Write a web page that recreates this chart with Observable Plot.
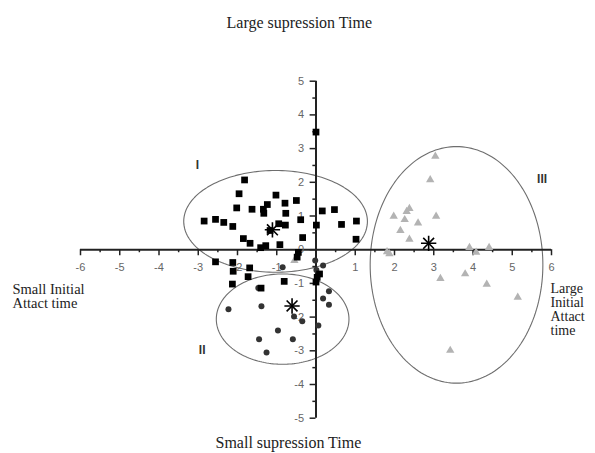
<!DOCTYPE html>
<html><head><meta charset="utf-8">
<script src="https://cdn.jsdelivr.net/npm/d3@7"></script>
<script src="https://cdn.jsdelivr.net/npm/@observablehq/plot@0.6"></script>
<style>body{margin:0;background:#fff}</style>
</head><body><div id="chart"></div>
<script>
// Group I (squares)
const groupI = [[0.0,3.49],[-1.82,2.07],[-1.96,1.66],[-1.02,1.62],[-1.24,1.34],[-0.79,1.38],[-0.50,1.46],[-2.02,1.24],[-1.63,1.20],[-1.34,1.20],[-1.33,1.08],[-0.77,1.08],[0.16,1.15],[0.47,1.19],[-2.85,0.85],[-2.56,0.90],[-2.35,0.81],[-2.12,0.69],[-0.39,0.89],[-0.95,0.77],[-0.78,0.73],[0.01,0.73],[0.65,0.75],[1.03,0.85],[-1.17,0.57],[-0.34,0.36],[-1.85,0.33],[-1.68,0.19],[1.02,0.31],[-1.28,0.12],[-1.41,0.06],[-0.92,0.15],[-0.45,-0.08],[-0.48,-0.22],[-2.56,-0.36],[-2.12,-0.38],[-2.11,-0.64],[-1.69,-0.54],[-1.73,-0.80],[-2.13,-1.02],[-1.40,-1.14],[-0.81,-0.94],[0.09,-0.72],[0.03,-0.82],[0.0,-0.96]];
// Group II (circles)
const groupII = [[-0.02,-0.32],[0.18,-0.47],[-0.85,-0.52],[0.01,-0.60],[0.33,-1.23],[0.18,-1.45],[0.33,-1.63],[-2.23,-1.77],[-1.39,-1.68],[-0.56,-1.98],[-0.35,-2.12],[0.06,-2.25],[-0.97,-2.40],[-1.45,-2.66],[-0.59,-2.66],[-1.26,-3.05],[-1.47,-1.14]];
// Group III (triangles)
const groupIII = [[3.04,2.77],[2.91,2.07],[2.38,1.22],[2.31,1.13],[1.98,0.99],[2.26,0.89],[2.60,0.79],[3.06,0.99],[2.15,0.57],[2.38,0.31],[1.81,-0.06],[1.87,-0.12],[3.91,0.06],[4.08,-0.08],[4.41,0.06],[3.17,-0.86],[3.80,-0.72],[4.35,-1.03],[5.14,-1.41],[3.42,-2.99],[-0.55,-0.32]];
// Cluster centroids (stars)
const centroids = [[-1.11,0.59],[-0.61,-1.67],[2.87,0.19]];
// Cluster ellipses: centre x, centre y, radius x, radius y
const ellipseNames = ["I","II","III"];
const ellipseCx = [-1.03,-0.85,3.58];
const ellipseCy = [0.84,-2.06,-0.45];
const ellipseRx = [2.34,1.69,2.20];
const ellipseRy = [1.51,1.34,3.51];
// Cluster labels
const labelX = [-3.02,-2.90,5.76];
const labelY = [2.50,-2.99,2.10];
// Axis ticks
const xTickLabels = [-6,-5,-4,-3,-2,-1,1,2,3,4,5,6];
const yTickLabels = [-5,-4,-3,-2,-1,0,1,2,3,4,5];
const xMajor = d3.range(-6,6.01,1);
const xMinor = d3.range(-5.5,6,1);
const yMajor = d3.range(-5,5.01,1);
const yMinor = d3.range(-4.5,5,1);

const ellipsePts = [];
ellipseNames.forEach((n,i)=>{
  for (let k=0;k<=180;k++){
    const t = k/180*2*Math.PI;
    ellipsePts.push({g:n, x: ellipseCx[i]+ellipseRx[i]*Math.cos(t), y: ellipseCy[i]+ellipseRy[i]*Math.sin(t)});
  }
});
const labels = ellipseNames.map((n,i)=>({n, x:labelX[i], y:labelY[i]}));

const serif = "'Liberation Serif', 'Times New Roman', serif";
const sans = "'Liberation Sans', Arial, sans-serif";

const chart = Plot.plot({
  width: 595, height: 453,
  marginLeft: 80, marginRight: 44, marginTop: 80.7, marginBottom: 35.3,
  x: {domain: [-6,6], axis: null},
  y: {domain: [-5,5], axis: null},
  style: {background: "#fff"},
  marks: [
    Plot.line(ellipsePts, {x:"x", y:"y", z:"g", stroke:"#6e6e6e", strokeWidth:1.1}),
    Plot.ruleY([0], {x1:-6, x2:6, stroke:"#222", strokeWidth:2}),
    Plot.ruleX([0], {y1:-5, y2:5, stroke:"#222", strokeWidth:2}),
    Plot.ruleX(xMajor, {x:d=>d, y1:0, y2:-0.18, stroke:"#222", strokeWidth:1.5}),
    Plot.ruleX(xMinor, {x:d=>d, y1:0, y2:-0.09, stroke:"#222", strokeWidth:1.5}),
    Plot.ruleY(yMajor, {y:d=>d, x1:-0.15, x2:0, stroke:"#222", strokeWidth:1.5}),
    Plot.ruleY(yMinor, {y:d=>d, x1:-0.08, x2:0, stroke:"#222", strokeWidth:1.5}),
    Plot.text(xTickLabels, {x:d=>d, y:0, dy:18, text:d=>String(d), fill:"#666", fontSize:11, fontFamily:sans}),
    Plot.text(yTickLabels, {x:0, y:d=>d, dx:-12, text:d=>String(d), textAnchor:"end", fill:"#666", fontSize:11, fontFamily:sans}),
    Plot.dot(groupIII, {x:d=>d[0], y:d=>d[1], symbol:"triangle", r:3.1, fill:"#b3b3b3", stroke:"none"}),
    Plot.dot(groupII, {x:d=>d[0], y:d=>d[1], symbol:"circle", r:3, fill:"#333", stroke:"none"}),
    Plot.dot(groupI, {x:d=>d[0], y:d=>d[1], symbol:"square", r:3.8, fill:"#000", stroke:"none"}),
    Plot.dot(centroids, {x:d=>d[0], y:d=>d[1], symbol:"plus", r:5, stroke:"#000", strokeWidth:1.6}),
    Plot.dot(centroids, {x:d=>d[0], y:d=>d[1], symbol:"times", r:5, stroke:"#000", strokeWidth:1.6}),
    Plot.text(labels, {x:"x", y:"y", text:"n", fill:"#333", fontSize:12, fontFamily:sans, fontWeight:"bold"}),
    Plot.text(["Large supression Time"], {frameAnchor:"top-left", dx:146, dy:-64.5, text:d=>d, fontSize:16, fontFamily:serif, fill:"#222"}),
    Plot.text(["Small supression Time"], {frameAnchor:"bottom-left", dx:135, dy:29.5, text:d=>d, fontSize:16, fontFamily:serif, fill:"#222"}),
    Plot.text(["Small Initial\nAttact time"], {frameAnchor:"left", dx:-68, dy:46.5, text:d=>d, textAnchor:"start", lineHeight:1, fontSize:14.5, fontFamily:serif, fill:"#222"}),
    Plot.text(["Large\nInitial\nAttact\ntime"], {frameAnchor:"right", dx:-1, dy:59.5, text:d=>d, textAnchor:"start", lineHeight:1, fontSize:14, fontFamily:serif, fill:"#222"})
  ]
});
document.getElementById("chart").appendChild(chart);
</script></body></html>
